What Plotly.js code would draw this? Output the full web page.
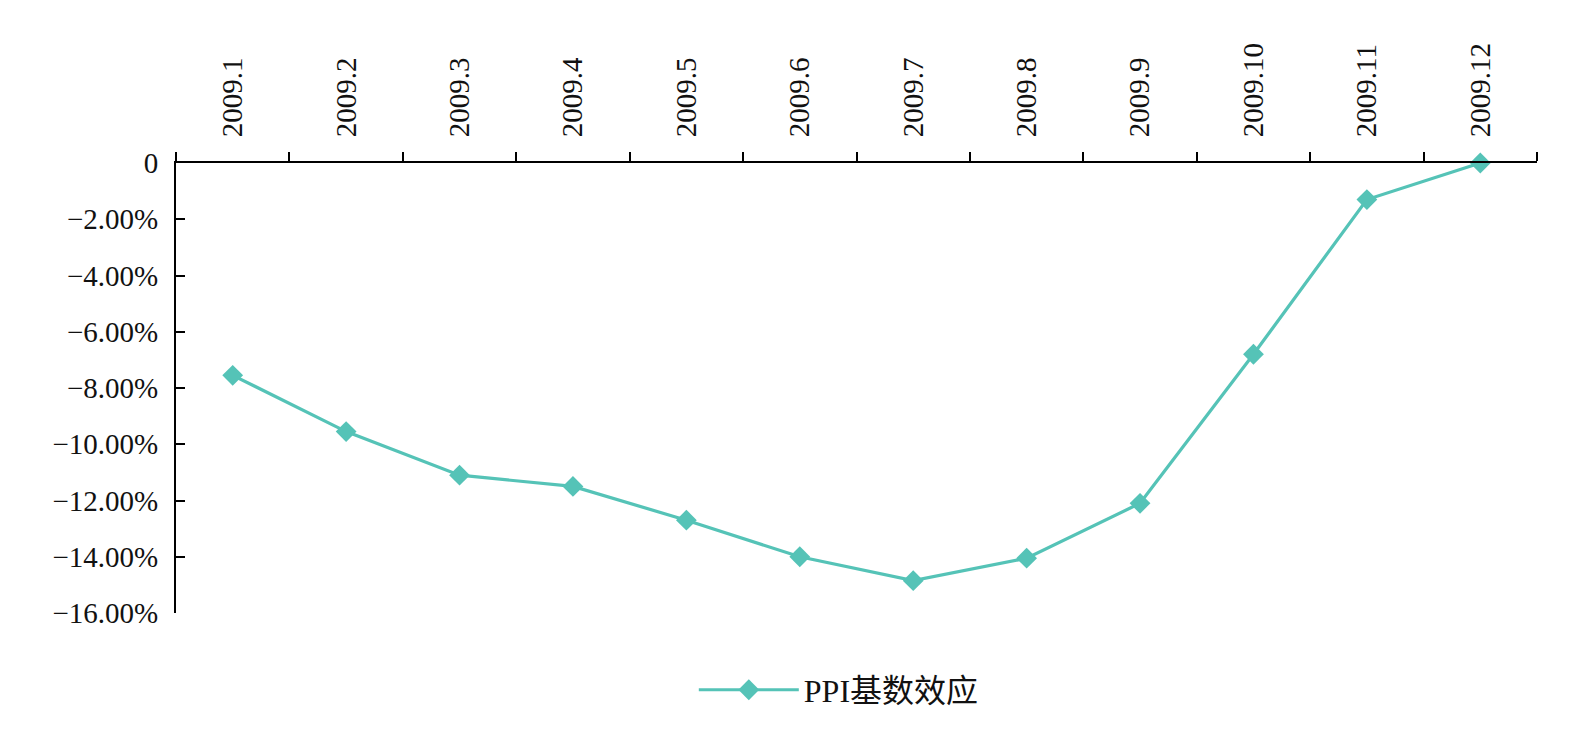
<!DOCTYPE html>
<html>
<head>
<meta charset="utf-8">
<script src="https://cdn.plot.ly/plotly-3.0.1.min.js"></script>
<style>html,body{margin:0;padding:0;background:#fff;}#chart{width:1586px;height:741px;}</style>
</head>
<body>
<div id="chart"></div>
<script>
const categories = ["2009.1","2009.2","2009.3","2009.4","2009.5","2009.6","2009.7","2009.8","2009.9","2009.10","2009.11","2009.12"];
const seriesName = "PPI基数效应";
const values = [-7.55, -9.55, -11.1, -11.5, -12.7, -14.0, -14.85, -14.05, -12.1, -6.8, -1.3, 0];
const yTickVals = [0, -2, -4, -6, -8, -10, -12, -14, -16];
const yTickText = ["0", "−2.00%", "−4.00%", "−6.00%", "−8.00%", "−10.00%", "−12.00%", "−14.00%", "−16.00%"];

const color = "#55C3B7";
const fontFam = "'Liberation Serif', 'Times New Roman', 'Noto Sans CJK SC', serif";

const trace = {
  x: categories,
  y: values,
  type: "scatter",
  mode: "lines+markers",
  name: seriesName,
  line: {color: color, width: 3.2},
  marker: {symbol: "diamond", size: 16, color: color},
  cliponaxis: false
};

const layout = {
  width: 1586,
  height: 741,
  margin: {l: 176, r: 49, t: 163, b: 128},
  paper_bgcolor: "#fff",
  plot_bgcolor: "#fff",
  font: {family: fontFam, size: 29, color: "#111"},
  showlegend: true,
  legend: {
    orientation: "h",
    x: 0.487, xanchor: "center",
    y: -0.171, yanchor: "middle",
    font: {family: fontFam, size: 32, color: "#111"},
    itemwidth: 100
  },
  xaxis: {
    type: "category",
    side: "top",
    tickangle: -90,
    showline: true,
    linecolor: "#000",
    linewidth: 2,
    ticks: "outside",
    ticklen: 9,
    tickwidth: 2,
    tickcolor: "#000",
    tickson: "boundaries",
    showgrid: false,
    zeroline: false,
    range: [-0.5, 11.5],
    ticklabelstandoff: 18,
    tickfont: {family: fontFam, size: 29, color: "#111"}
  },
  yaxis: {
    range: [-16, 0],
    tickvals: yTickVals,
    ticktext: yTickText,
    showline: true,
    linecolor: "#000",
    linewidth: 2,
    ticks: "inside",
    ticklen: 9,
    tickwidth: 2,
    tickcolor: "#000",
    showgrid: false,
    zeroline: false,
    ticklabelstandoff: 10,
    tickfont: {family: fontFam, size: 29, color: "#111"}
  }
};

Plotly.newPlot("chart", [trace], layout, {displayModeBar: false, staticPlot: true});
</script>
</body>
</html>
